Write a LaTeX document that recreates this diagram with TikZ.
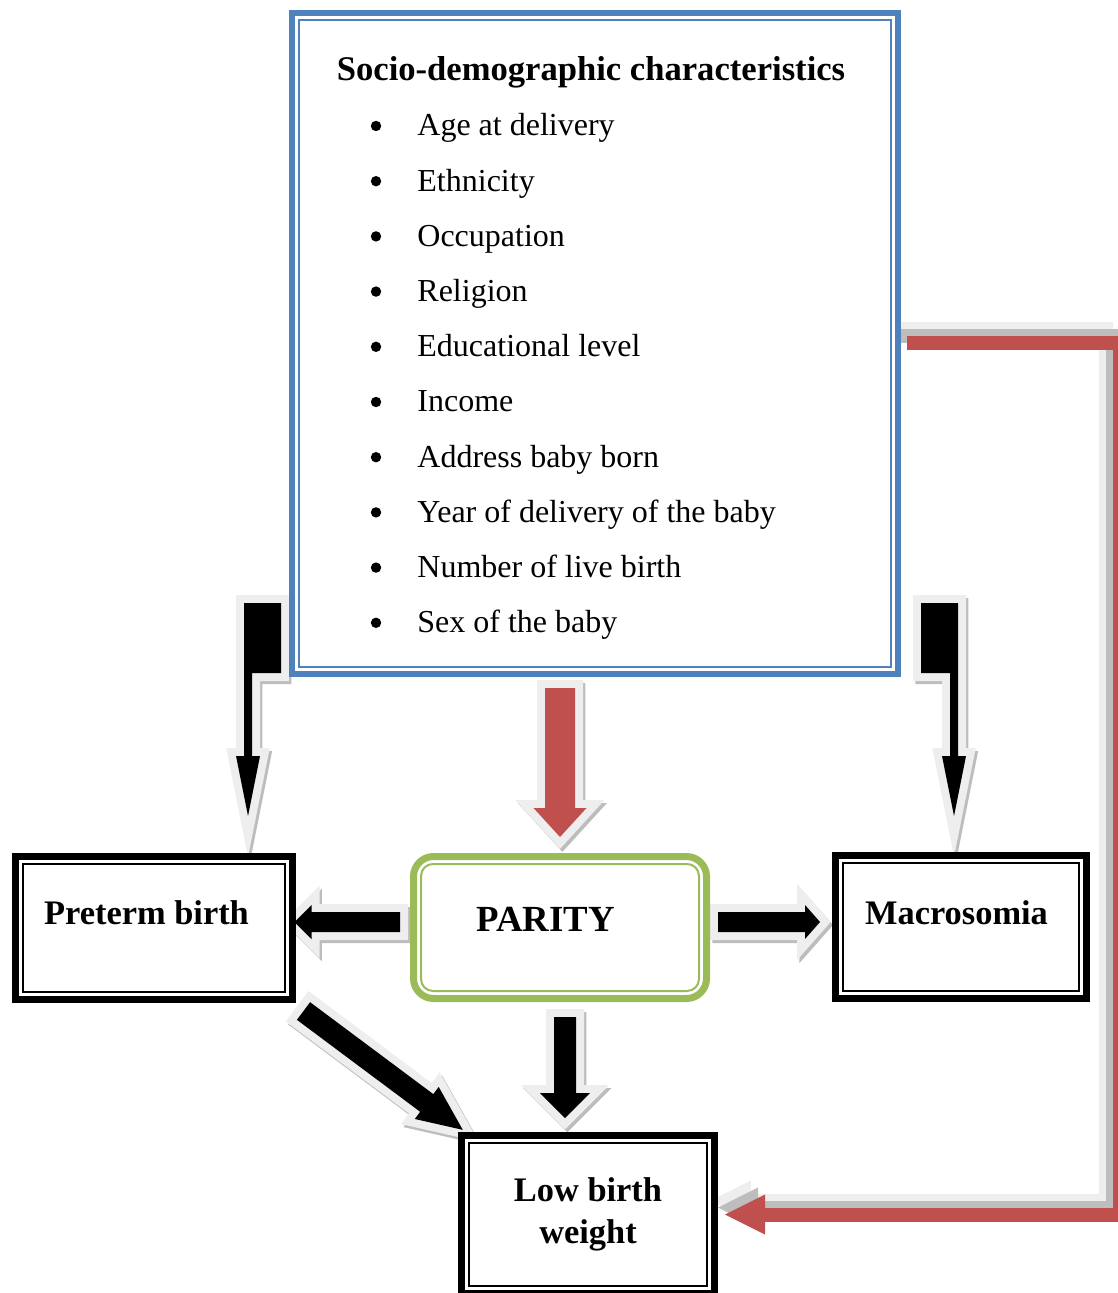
\documentclass[tikz,border=0pt]{standalone}
\usepackage{fontspec}
\setmainfont{Liberation Serif}
\usetikzlibrary{arrows.meta, calc, backgrounds}
\definecolor{accentblue}{HTML}{4F81BD}
\definecolor{accentgreen}{HTML}{9BBB59}
\definecolor{accentred}{HTML}{C0504D}
\definecolor{glowgrey}{HTML}{EEEEEE}
\definecolor{shadowgrey}{HTML}{BDBDBD}
\tikzset{
  heading/.style={font=\fontsize{17.3}{20}\selectfont\bfseries, anchor=base, inner sep=0pt},
  itemtext/.style={font=\fontsize{16}{19}\selectfont, anchor=base west, inner sep=0pt},
  itemdot/.style={circle, fill=black, inner sep=0pt, minimum size=5.2pt},
  sociobox/.style={draw=accentblue, line width=3pt, fill=white, minimum width=303pt, minimum height=330.5pt},
  outcome/.style={draw=black, line width=3.5pt, fill=white, align=center, inner sep=0pt,
                  font=\fontsize{17.2}{21}\selectfont\bfseries},
  paritybox/.style={draw=accentgreen, line width=3.5pt, fill=white, rounded corners=10pt, inner sep=0pt,
                  font=\fontsize{18.4}{22}\selectfont\bfseries},
  innerline/.style={line width=1pt},
  arrshadow/.style={draw=shadowgrey, line width=8pt, line join=miter, transform canvas={shift={(1.2pt,-1.5pt)}}},
  arrglow/.style={draw=glowgrey, line width=8pt, line join=miter},
  arrcore/.style={},
  redlink/.style={line width=7pt, line join=miter, -{Triangle[length=20pt, width=20pt, line width=0pt]}},
}
% block arrow: from, to, stem half width, head half width, head length (px), colour
\newcommand{\blockarrow}[6]{%
  \foreach \lay/\col in {arrshadow/shadowgrey, arrglow/glowgrey, arrcore/#6}
    \path[\lay, fill=\col] let \p1=($(#2)-(#1)$), \n1={atan2(\y1,\x1)}, \n2={veclen(\x1,\y1)} in
      [shift={(#1)}, rotate=\n1]
      (0pt,{#3*0.5pt}) -- ({\n2-#5*0.5pt},{#3*0.5pt}) -- ({\n2-#5*0.5pt},{#4*0.5pt}) -- ({\n2*1pt},0pt)
      -- ({\n2-#5*0.5pt},{-#4*0.5pt}) -- ({\n2-#5*0.5pt},{-#3*0.5pt}) -- (0pt,{-#3*0.5pt}) -- cycle;
}

\begin{document}
\begin{tikzpicture}[x={(0.5pt,0)}, y={(0,-0.5pt)}]
  \useasboundingbox (0,0) rectangle (1117,1293);

  % boxes
  \node[sociobox] (socio) at (595,343.5) {};
  \draw[accentblue, innerline] ($(socio.north west)+(10,10)$) rectangle ($(socio.south east)+(-10,-10)$);
  \node[heading] (title) at (591,81) {Socio-demographic characteristics};
  \foreach \txt [count=\i] in {Age at delivery, Ethnicity, Occupation, Religion, Educational level,
      Income, Address baby born, Year of delivery of the baby, Number of live birth, Sex of the baby} {
    \node[itemdot] (dot\i) at (376,{70.8+55.2*\i}) {};
    \node[itemtext] (item\i) at (417,{80.8+55.2*\i}) {\txt};
  }

  \node[outcome, minimum width=138.25pt, minimum height=71.25pt, text height=12pt, text depth=15.75pt]
    (preterm) at (153.75,927.75) {Preterm birth\hspace*{7.25pt}};
  \node[outcome, minimum width=125.5pt, minimum height=71.5pt, text height=12pt, text depth=15pt]
    (macro) at (961,927) {Macrosomia\hspace*{4.5pt}};
  \node[outcome, minimum width=126.5pt, minimum height=79pt] (lbw) at (588,1214.5) {Low birth\\weight};
  \node[paritybox, minimum width=146.5pt, minimum height=71pt, text height=12.5pt, text depth=9pt]
    (parity) at (560,927.5) {PARITY\hspace*{14.5pt}};
  \foreach \n in {preterm, macro, lbw}
    \draw[innerline] ($(\n.north west)+(11,11)$) rectangle ($(\n.south east)+(-11,-11)$);
  \draw[accentgreen, innerline, rounded corners=6pt] ($(parity.north west)+(11,11)$) rectangle ($(parity.south east)+(-11,-11)$);

  % arrows
  \begin{scope}[on background layer]
    \foreach \col/\dx in {glowgrey/14, shadowgrey/7, accentred/0}
      \draw[redlink, \col, transform canvas={shift={({-\dx*0.5pt},{\dx*0.5pt})}}]
        ($(socio.east)+(6,0)$) -- ++(213,0) |- ($(lbw.east)+(7,0)$);

    \coordinate (ltip) at ($(preterm.north)+(94.25,-37)$);
    \coordinate (rtip) at ($(macro.north)+(-7,-36)$);
    \foreach \tp/\s in {ltip/1, rtip/-1}
      \foreach \lay/\col in {arrshadow/shadowgrey, arrglow/glowgrey, arrcore/black}
        \path[\lay, fill=\col, shift={(\tp)}, xscale=\s] (-4,-213) -- (33,-213) -- (33,-143) -- (4,-143)
          -- (4,-60) -- (12,-60) -- (0,0) -- (-12,-60) -- (-4,-60) -- cycle;

    \coordinate (redfrom) at ($(parity.north |- socio.south)+(0,11)$);
    \coordinate (redto) at ($(parity.north)+(0,-16)$);
    \blockarrow{redfrom}{redto}{15}{26.5}{29}{accentred}

    \coordinate (pwest) at ($(parity.west)+(-10,-5.5)$);
    \coordinate (ptip) at ($(preterm.east)+(-1,-5.75)$);
    \blockarrow{pwest}{ptip}{10}{17}{17}{black}

    \coordinate (peast) at ($(parity.east)+(8,-5.5)$);
    \coordinate (mtip) at ($(macro.west)+(-12,-5)$);
    \blockarrow{peast}{mtip}{10}{17}{15}{black}

    \coordinate (pcorner) at ($(preterm.south east)+(8,8.5)$);
    \coordinate (ltipdiag) at ($(lbw.north west)+(5,-2)$);
    \blockarrow{pcorner}{ltipdiag}{11}{20}{45}{black}

    \coordinate (psouth) at ($(parity.south)+(5,15)$);
    \coordinate (lbwtop) at ($(parity.south |- lbw.north)+(5,-14)$);
    \blockarrow{psouth}{lbwtop}{11}{25}{25}{black}
  \end{scope}
\end{tikzpicture}
\end{document}
